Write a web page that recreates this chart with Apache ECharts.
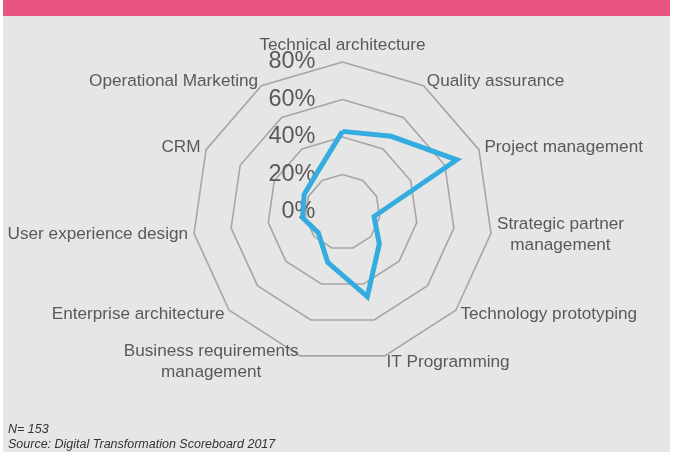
<!DOCTYPE html>
<html>
<head>
<meta charset="utf-8">
<script src="https://cdn.jsdelivr.net/npm/echarts@6/dist/echarts.min.js"></script>
<style>
html,body{margin:0;padding:0;background:#ffffff;}
#chart{width:676px;height:452px;}
</style>
</head>
<body>
<div id="chart"></div>
<script>
// Indicators in clockwise order starting from the top
const indicatorNames = [
  'Technical architecture',
  'Quality assurance',
  'Project management',
  'Strategic partner\nmanagement',
  'Technology prototyping',
  'IT Programming',
  'Business requirements\nmanagement',
  'Enterprise architecture',
  'User experience design',
  'CRM',
  'Operational Marketing'
];
// Share of respondents (%)
const shareValues = [43, 48, 67, 17, 26, 47, 28, 17, 21.5, 22.5, 25];
const tickLabels = ['0%', '20%', '40%', '60%', '80%'];
const axisMax = 80;
const axisStep = 20;

// ECharts places radar indicators counter-clockwise; reorder so they read clockwise
const order = [0];
for (let i = indicatorNames.length - 1; i >= 1; i--) order.push(i);

const indicators = order.map((idx, k) => ({
  name: indicatorNames[idx],
  min: 0,
  max: axisMax,
  nameMoveOverlap: false,
  axisLabel: k === 0 ? {
    show: true,
    color: '#5a5a5a',
    fontSize: 23.5,
    fontFamily: 'Liberation Sans',
    margin: 27,
    formatter: function (v) { return tickLabels[Math.round(v / axisStep)]; }
  } : { show: false }
}));
const values = order.map(idx => shareValues[idx]);
const topName = indicatorNames[0];

const chart = echarts.init(document.getElementById('chart'));
chart.setOption({
  backgroundColor: '#ffffff',
  animation: false,
  graphic: [
    { type: 'rect', shape: { x: 3, y: 0, width: 667, height: 452 }, style: { fill: '#e6e6e6' }, z: -10 },
    { type: 'rect', shape: { x: 3, y: 0, width: 667, height: 16 }, style: { fill: '#e9537f' }, z: -9 },
    { type: 'text', left: 8, top: 423, style: { text: 'N= 153', fill: '#333333', font: 'italic 12.5px "Liberation Sans"' } },
    { type: 'text', left: 8, top: 438, style: { text: 'Source: Digital Transformation Scoreboard 2017', fill: '#333333', font: 'italic 12.5px "Liberation Sans"' } }
  ],
  radar: {
    center: [342.5, 212],
    radius: 150,
    startAngle: 90,
    splitNumber: 4,
    shape: 'polygon',
    indicator: indicators,
    nameGap: 6,
    nameMoveOverlap: false,
    axisName: {
      color: '#595959',
      fontSize: 17.2,
      fontFamily: 'Liberation Sans',
      formatter: function (name) {
        if (name === topName) return '{t|' + name + '}';
        return name.split('\n').map(s => '{c|' + s + '}').join('\n');
      },
      rich: {
        c: { align: 'center', color: '#595959', fontSize: 17.2, fontFamily: 'Liberation Sans', lineHeight: 21, padding: [1, 0, 0, 0] },
        t: { align: 'center', color: '#595959', fontSize: 17.2, fontFamily: 'Liberation Sans', lineHeight: 21 }
      }
    },
    axisLine: { show: false },
    axisTick: { show: false },
    splitArea: { show: false },
    splitLine: { lineStyle: { color: '#a6a6a6', width: 1.6 } }
  },
  series: [{
    type: 'radar',
    symbol: 'none',
    lineStyle: { color: '#35ace0', width: 5, join: 'miter' },
    data: [{ value: values, name: 'Share' }]
  }]
});
</script>
</body>
</html>
